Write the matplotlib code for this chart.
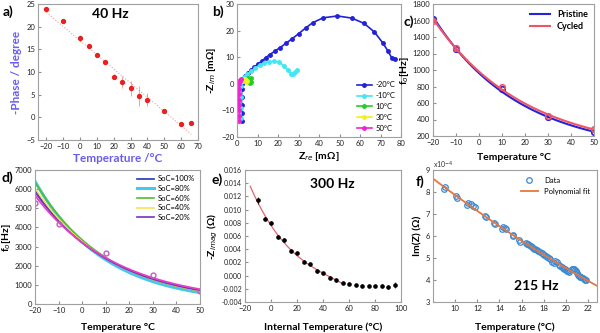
import matplotlib
matplotlib.use('Agg')
import matplotlib.pyplot as plt
import numpy as np
from matplotlib.ticker import FormatStrFormatter

plt.rcParams['font.family'] = ['Lato', 'DejaVu Sans']
plt.rcParams['font.size'] = 5.5
plt.rcParams['axes.edgecolor'] = '#a0a0a0'
plt.rcParams['axes.linewidth'] = 0.8
plt.rcParams['xtick.direction'] = 'in'
plt.rcParams['ytick.direction'] = 'in'
plt.rcParams['xtick.major.size'] = 2
plt.rcParams['ytick.major.size'] = 2
plt.rcParams['xtick.major.pad'] = 2.5
plt.rcParams['ytick.major.pad'] = 2
plt.rcParams['xtick.color'] = '#909090'
plt.rcParams['ytick.color'] = '#909090'
plt.rcParams['xtick.labelcolor'] = '#222222'
plt.rcParams['ytick.labelcolor'] = '#222222'

# (a) phase at 40 Hz vs temperature
a_temp = [-20, -10, 0, 5, 10, 15, 20, 25, 30, 35, 40, 50, 60, 66]
a_phase = [24.0, 21.2, 17.4, 15.7, 13.7, 12.3, 9.0, 7.8, 6.4, 4.8, 3.9, 1.3, -1.5, -1.2]
a_err = [0.3, 0.3, 0.7, 0.3, 0.3, 0.4, 0.5, 1.3, 1.6, 2.2, 1.5, 0.3, 0.3, 0.3]

# (b) Nyquist plots, Zre / -Zim in mOhm
b_labels = ['-20°C', '-10°C', '10°C', '30°C', '50°C']
b_colors = ['#2222d8', '#44e6f2', '#22d022', '#f2f022', '#f022d2']
b_zre = [
    [2.3, 2.2, 2.2, 2.2, 2.3, 2.5, 3.0, 4.0, 5.5, 7.0, 8.5, 10.0, 12.0, 14.0, 16.0, 18.5,
     21.0, 24.0, 27.0, 30.0, 33.5, 37.0, 42.0, 49.0, 56.0, 62.0, 67.0, 71.0, 73.5, 75.5, 77.0],
    [1.9, 1.9, 1.9, 2.0, 2.5, 3.5, 5.0, 7.0, 9.0, 11.0, 13.0, 15.5, 18.0, 20.5, 23.0, 25.0,
     26.5, 27.5, 28.5, 29.5],
    [4.5, 5.0, 5.5, 6.0, 6.5, 6.8, 6.5, 6.0, 6.3, 6.8],
    [2.5, 3.0, 3.5, 4.0, 4.5, 4.8, 4.6],
    [1.2, 1.1, 1.0, 0.9, 0.9, 0.9, 1.0, 1.1, 1.3, 1.6, 2.0],
]
b_zim = [
    [-14.0, -11.0, -8.0, -5.0, -2.0, 0.0, 1.5, 3.0, 4.2, 5.3, 6.3, 7.3, 8.5, 9.8, 11.0, 12.3,
     13.6, 15.3, 17.0, 18.8, 21.0, 23.0, 24.8, 25.5, 24.7, 22.7, 19.5, 15.5, 12.5, 9.7, 9.2],
    [-13.0, -9.0, -5.0, -1.0, 1.0, 2.5, 3.5, 4.8, 6.0, 7.0, 7.8, 8.3, 8.5, 8.2, 6.8, 5.0,
     3.8, 3.5, 4.3, 5.2],
    [1.5, 1.8, 2.0, 1.8, 1.2, 0.6, 0.2, 0.5, 1.5, 2.2],
    [1.0, 1.5, 1.8, 1.8, 1.5, 1.0, 0.6],
    [-14.0, -12.0, -10.0, -8.0, -6.0, -4.0, -2.0, 0.0, 1.0, 1.5, 1.7],
]

# (c) characteristic frequency, pristine vs cycled
c_temp = [-20, -10, 10, 30, 50]
c_pristine = [1620, 1250, 770, 425, 250]
c_cycled = [1590, 1265, 800, 445, 280]

# (d) characteristic frequency at different SoC
d_temp = [-20, -10, 10, 30, 50]
d_labels = ['SoC=100%', 'SoC=80%', 'SoC=60%', 'SoC=40%', 'SoC=20%']
d_colors = ['#2233bb', '#44c8f0', '#55bb33', '#f2e455', '#7733bb']
d_widths = [1.2, 2.2, 1.2, 1.2, 1.2]
d_fo = [
    [5800, 4350, 2450, 1300, 650],
    [6300, 4450, 2400, 1250, 560],
    [6100, 4400, 2750, 1350, 620],
    [5900, 4300, 2550, 1350, 650],
    [5700, 4250, 2500, 1350, 680],
]
d_extra = [5300, 4200, 2650, 1500, 700]

# (e) -Zimag at 300 Hz vs internal temperature
e_temp = [-10, -5, 0, 5, 10, 15, 20, 25, 30, 35, 40, 45, 50, 55, 60, 65, 70, 75, 80, 85, 90, 95]
e_zim = [0.0114, 0.0086, 0.0079, 0.0058, 0.0054, 0.0037, 0.0035, 0.0021, 0.0017, 0.0007,
         0.0004, -0.0003, -0.0007, -0.0011, -0.0012, -0.0014, -0.0015, -0.0015, -0.0016,
         -0.0016, -0.0017, -0.0014]
e_err = [0.0005, 0.0003, 0.0003, 0.0003, 0.0003, 0.0003, 0.0003, 0.0002, 0.0002, 0.0003,
         0.0002, 0.0002, 0.0002, 0.0002, 0.0002, 0.0002, 0.0002, 0.0003, 0.0002, 0.0003,
         0.0003, 0.0005]

# (f) Im(Z) at 215 Hz (x1e-4 Ohm)
f_temp = [9.0, 9.05, 10.1, 10.15, 11.1, 11.2, 11.4, 11.6, 11.8, 12.7, 12.75, 13.5, 13.55,
          14.2, 14.3, 14.5, 14.6, 15.2, 15.25, 15.8, 15.85,
          16.4, 16.5, 16.6, 16.7, 16.8, 16.9, 17.0, 17.1, 17.2, 17.4, 17.5, 17.7, 17.8, 17.9,
          18.0, 18.2, 18.3, 18.5, 18.6, 18.7, 18.9, 19.0, 19.2, 19.4, 19.5, 19.6, 19.7, 19.8,
          19.9, 20.0, 20.1, 20.2, 20.3, 20.5, 20.6, 20.7, 20.8, 20.9, 21.0, 21.1, 21.2, 21.3,
          21.4, 21.5, 21.6, 21.7, 21.8]
f_imz = [8.15, 8.22, 7.80, 7.72, 7.40, 7.50, 7.45, 7.35, 7.30, 6.90, 6.85, 6.60, 6.55,
         6.30, 6.40, 6.38, 6.32, 6.00, 6.05, 5.80, 5.75,
         5.70, 5.65, 5.62, 5.58, 5.55, 5.50, 5.47, 5.43, 5.40, 5.35, 5.30, 5.26, 5.22, 5.18,
         5.15, 5.10, 5.06, 5.00, 4.95, 4.80, 4.78, 4.85, 4.80, 4.70, 4.62, 4.58, 4.55, 4.50,
         4.48, 4.45, 4.40, 4.42, 4.38, 4.50, 4.48, 4.52, 4.45, 4.42, 4.30, 4.25, 4.20, 4.15,
         4.12, 4.08, 4.05, 4.02, 4.00]

fig = plt.figure(figsize=(6, 3.33), dpi=100)
W, H = 600, 333


def place(l, r, t, b):
    return fig.add_axes([l / W, 1 - b / H, (r - l) / W, (b - t) / H])


label_kw = dict(fontsize=7.5, fontweight='bold')
panel_kw = dict(fontsize=10, fontweight='bold', ha='left', va='center')

# ---- a)
ax = place(38, 198, 4, 140)
coef = np.polyfit(a_temp, a_phase, 1)
tt = np.array([-20, 66])
ax.plot(tt, np.polyval(coef, tt), ':', color='#f0a0a0', lw=0.8)
ax.errorbar(a_temp, a_phase, yerr=a_err, fmt='o', color='#e82020', ms=2.8,
            ecolor='#f09090', elinewidth=0.6, capsize=0)
ax.set_xlim(-25, 70)
ax.set_ylim(-5, 25)
ax.set_xticks(range(-20, 71, 10))
ax.set_yticks(range(-5, 26, 5))
ax.text(7, 22, '40 Hz', fontsize=10, fontweight='bold')
ax.set_xlabel('Temperature /°C', color='#6a5cf0', fontsize=8.5, fontweight='bold', labelpad=2)
ax.set_ylabel('-Phase / degree', color='#6a5cf0', fontsize=8.5, fontweight='bold', labelpad=3)
fig.text(3 / W, 1 - 12 / H, 'a)', **panel_kw)

# ---- b)
ax = place(237, 401, 4, 137)
for xs, ys, lab, col in zip(b_zre, b_zim, b_labels, b_colors):
    ax.plot(xs, ys, '-o', color=col, ms=2.5, lw=1.2, label=lab)
ax.set_xlim(0, 80)
ax.set_ylim(-20, 30)
ax.set_xticks(range(0, 81, 10))
ax.set_yticks(range(-20, 31, 10))
ax.set_xlabel('Z$_{re}$ [mΩ]', labelpad=2, **label_kw)
ax.set_ylabel('-Z$_{im}$ [mΩ]', labelpad=2, **label_kw)
ax.legend(loc='lower right', frameon=False, fontsize=5.5, handlelength=2.0,
          labelspacing=0.5, borderaxespad=0.3, handletextpad=0.5)
fig.text(212 / W, 1 - 12 / H, 'b)', **panel_kw)

# ---- c)
ax = place(433, 594, 4, 136)
tc = np.linspace(-20, 50, 100)
for vals, col, lab in [(c_pristine, '#2222e0', 'Pristine'), (c_cycled, '#f05565', 'Cycled')]:
    k = np.polyfit(c_temp, np.log(vals), 1)
    ax.plot(tc, np.exp(np.polyval(k, tc)), color=col, lw=1.5, label=lab)
    ax.plot(c_temp, vals, 'o', mfc='none', mec=col, ms=4, mew=1.2)
ax.set_xlim(-20, 50)
ax.set_ylim(200, 1800)
ax.set_xticks(range(-20, 51, 10))
ax.set_yticks(range(200, 1801, 200))
ax.set_xlabel('Temperature °C', labelpad=5, **label_kw)
ax.set_ylabel('f$_o$[Hz]', labelpad=1, **label_kw)
leg = ax.legend(loc='upper right', frameon=False, fontsize=6.5, handlelength=2.2,
                labelspacing=0.3, borderaxespad=0.3)
for t in leg.get_texts():
    t.set_fontweight('bold')
fig.text(403 / W, 1 - 22 / H, 'c)', **panel_kw)

# ---- d)
ax = place(35, 200, 170, 304)
td = np.linspace(-20, 50, 100)
for vals, col, lw, lab in zip(d_fo, d_colors, d_widths, d_labels):
    k = np.polyfit(d_temp, np.log(vals), 1)
    ax.plot(td, np.exp(np.polyval(k, td)), color=col, lw=lw, label=lab)
k = np.polyfit(d_temp, np.log(d_extra), 1)
ax.plot(td, np.exp(np.polyval(k, td)), color='#e83cc8', lw=1.2)
ax.plot(d_temp, d_extra, 'o', mfc='none', mec='#c060c0', ms=3.5, mew=1.0)
ax.set_xlim(-20, 50)
ax.set_ylim(0, 7000)
ax.set_xticks(range(-20, 51, 10))
ax.set_yticks(range(0, 7001, 1000))
ax.set_xlabel('Temperature °C', labelpad=6, **label_kw)
ax.set_ylabel('f$_o$[Hz]', labelpad=1, **label_kw)
ax.legend(loc='upper right', frameon=False, fontsize=5.5, handlelength=2.2,
          labelspacing=0.35, borderaxespad=0.3, handletextpad=0.5)
fig.text(2 / W, 1 - 178 / H, 'd)', **panel_kw)

# ---- e)
ax = place(245, 401, 170, 302)
sel = [i for i, t in enumerate(e_temp) if t <= 55]
k = np.polyfit([e_temp[i] for i in sel], [e_zim[i] for i in sel], 3)
te = np.linspace(-16, 56, 100)
ax.plot(te, np.polyval(k, te), color='#e06575', lw=0.9)
ax.errorbar(e_temp, e_zim, yerr=e_err, fmt='o', color='black', ms=2.3,
            elinewidth=0.5, capsize=0)
ax.set_xlim(-20, 100)
ax.set_ylim(-0.004, 0.016)
ax.set_xticks(range(-20, 101, 20))
ax.set_yticks(np.arange(-0.004, 0.0161, 0.002))
ax.yaxis.set_major_formatter(FormatStrFormatter('%.3f'))
ax.tick_params(axis='y', labelsize=5)
ax.text(30, 0.0132, '300 Hz', fontsize=10, fontweight='bold')
ax.set_xlabel('Internal Temperature (°C)', labelpad=7, **label_kw)
ax.set_ylabel('-Z$_{imag}$ (Ω)', labelpad=1, **label_kw)
fig.text(212 / W, 1 - 180 / H, 'e)', **panel_kw)

# ---- f)
ax = place(433, 597, 170, 302)
k = np.polyfit(f_temp, f_imz, 2)
tf = np.linspace(8, 22.8, 100)
ax.plot(f_temp, f_imz, 'o', mfc='none', mec='#3a8ad4', ms=4, mew=0.9, label='Data')
ax.plot(tf, np.polyval(k, tf), color='#e8763c', lw=1.3, label='Polynomial fit')
ax.set_xlim(8, 22.8)
ax.set_ylim(3, 9)
ax.set_xticks(range(10, 23, 2))
ax.set_yticks(range(3, 10))
ax.text(0.0, 1.01, 'x10$^{-4}$', transform=ax.transAxes, fontsize=5, color='#333333')
ax.text(15.3, 3.55, '215 Hz', fontsize=10, fontweight='bold')
ax.set_xlabel('Temperature (°C)', labelpad=7, **label_kw)
ax.set_ylabel('Im(Z) (Ω)', labelpad=2, **label_kw)
ax.legend(loc='upper right', frameon=False, fontsize=5.5, handlelength=2.2,
          labelspacing=0.5)
fig.text(416 / W, 1 - 182 / H, 'f)', **panel_kw)

fig.savefig('out.png', dpi=100)
